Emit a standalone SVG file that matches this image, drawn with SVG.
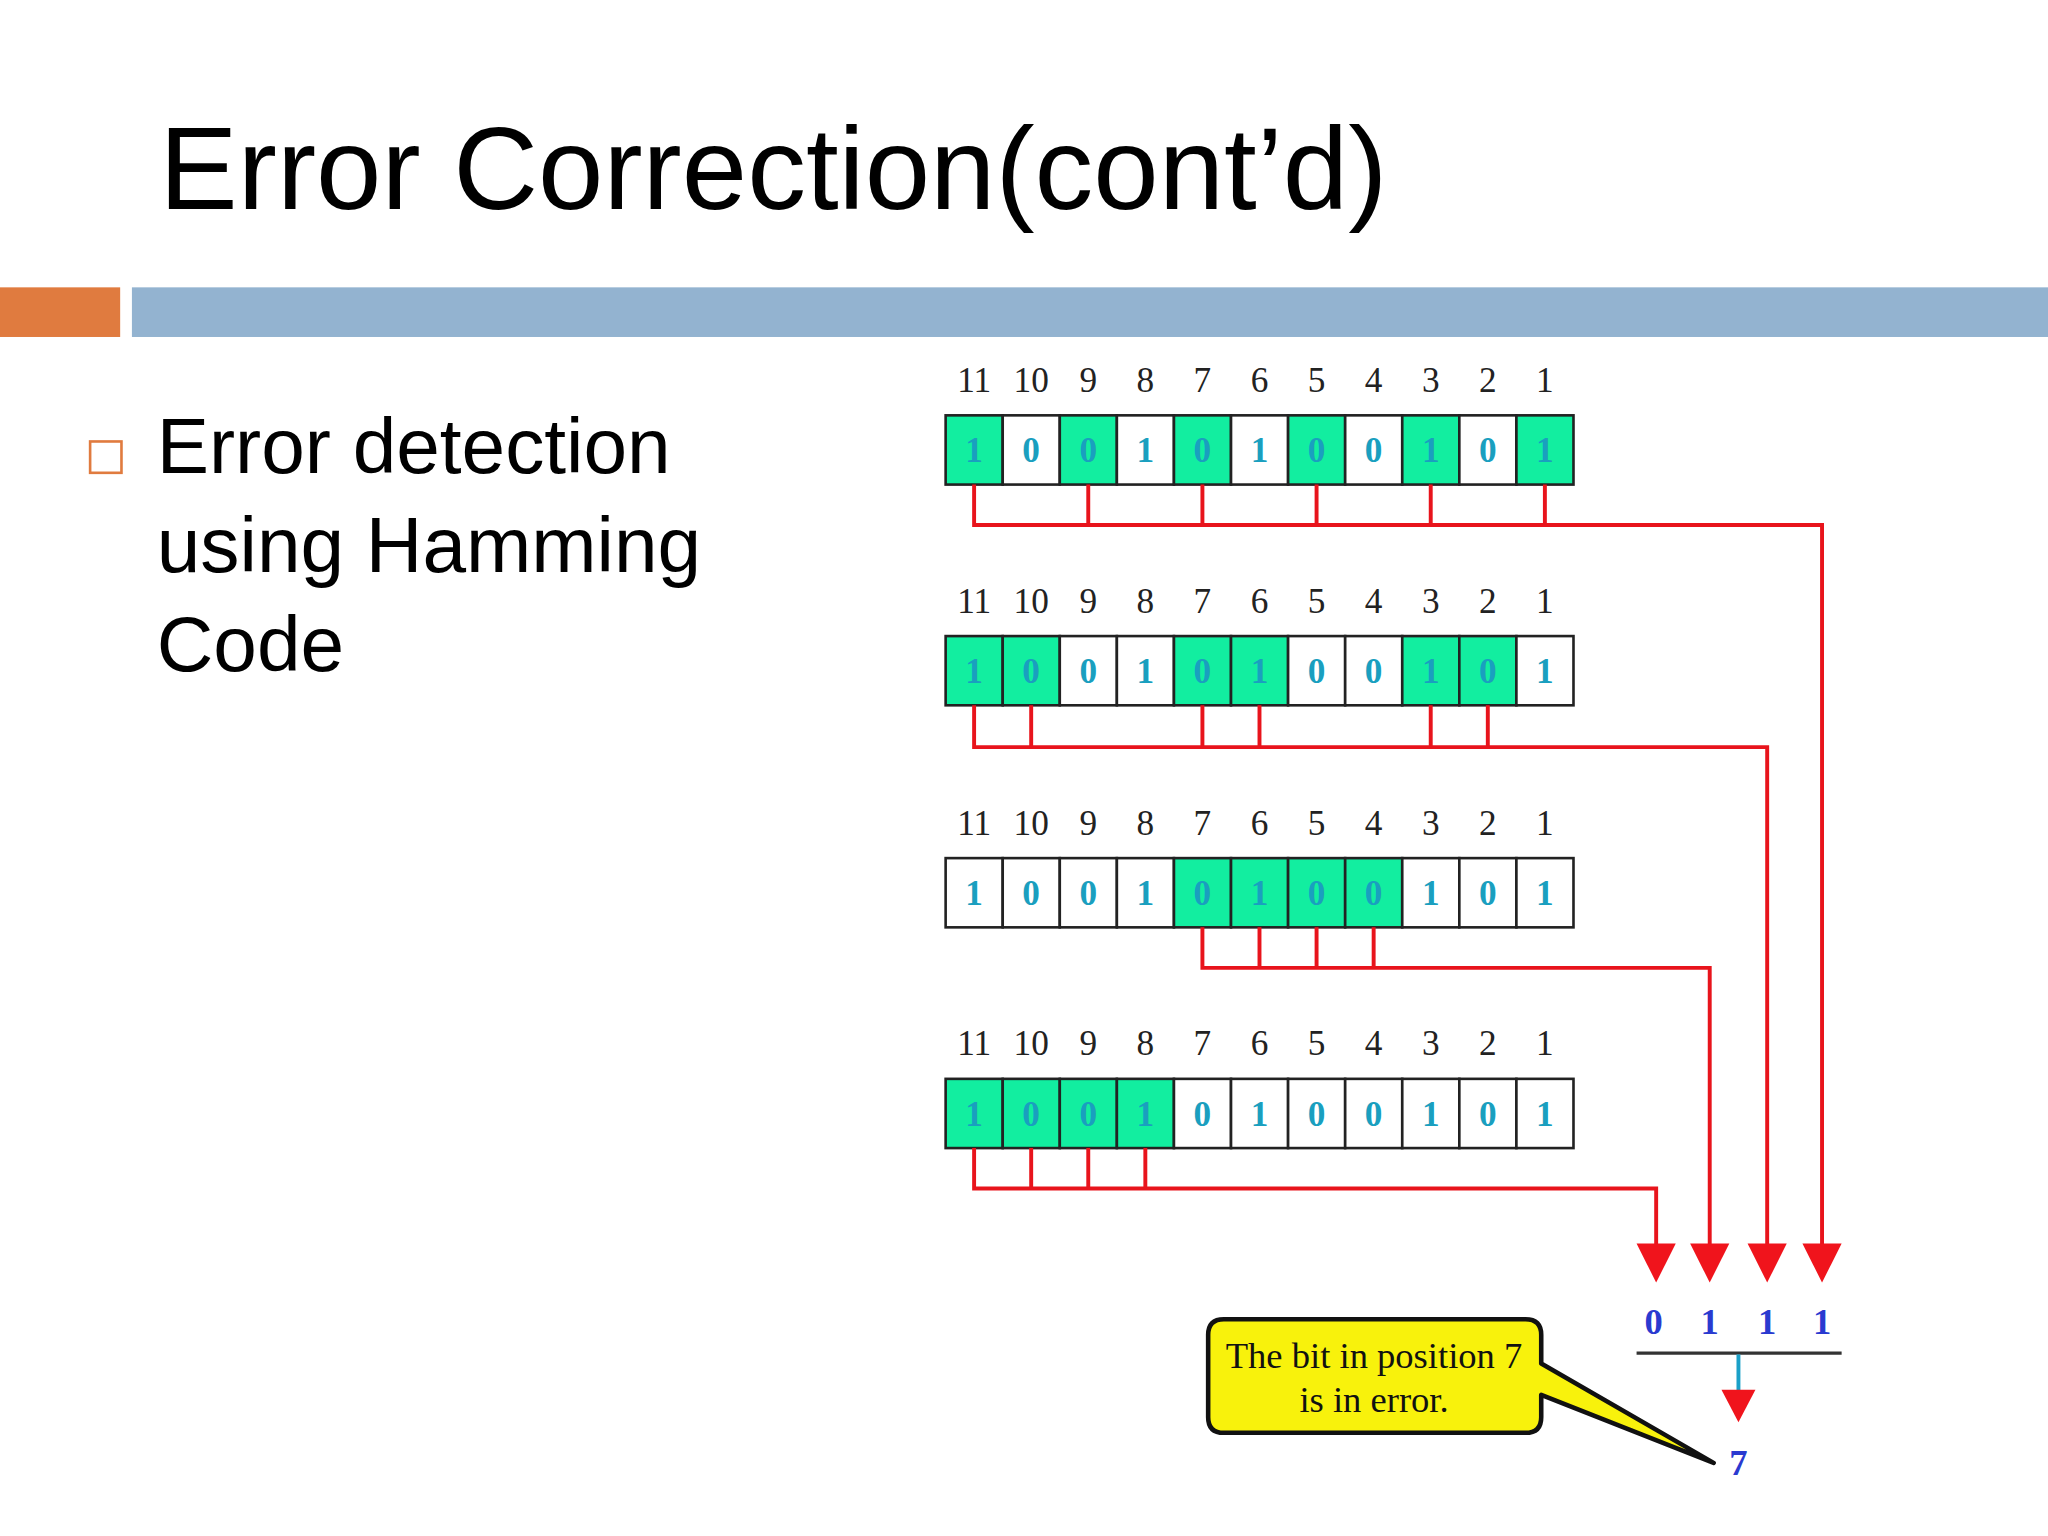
<svg xmlns="http://www.w3.org/2000/svg" width="2048" height="1536" viewBox="0 0 2048 1536">
<style>
.lab{font-family:"Liberation Serif",serif;font-size:27px;fill:#222;text-anchor:middle}
.bit{font-family:"Liberation Serif",serif;font-size:27px;font-weight:bold;fill:#1a9fbf;text-anchor:middle}
.g{fill:#12eea0;stroke:#222;stroke-width:2}
.w{fill:#fff;stroke:#222;stroke-width:2}
.red{fill:none;stroke:#e8141c;stroke-width:3}
.res{font-family:"Liberation Serif",serif;font-size:28px;font-weight:bold;fill:#2a3ad0;text-anchor:middle}
</style>
<defs>
<path id="ah" d="M-15,0 L15,0 L0,30 Z" fill="#f0141c"/>
</defs>
<rect width="2048" height="1536" fill="#fff"/>
<g transform="scale(1.306122)">
<g id="title"><text x="122" y="160" font-family="Liberation Sans,Arial,sans-serif" font-size="90" fill="#000">Error Correction(cont’d)</text></g>
<rect x="0" y="220" width="92" height="38" fill="#e07b3f"/>
<rect x="101" y="220" width="1467" height="38" fill="#93b3d0"/>
<g id="bullet"><rect x="69" y="338" width="24" height="24" fill="none" stroke="#e07b3f" stroke-width="2"/>
<text font-family="Liberation Sans,Arial,sans-serif" font-size="60" fill="#000"><tspan x="120" y="362">Error detection</tspan><tspan x="120" y="438">using Hamming</tspan><tspan x="120" y="514">Code</tspan></text></g>

<g id="row1" transform="translate(0,318)">
<text class="lab" y="-18"><tspan x="745.8">11</tspan><tspan x="789.5">10</tspan><tspan x="833.2">9</tspan><tspan x="876.9">8</tspan><tspan x="920.6">7</tspan><tspan x="964.3">6</tspan><tspan x="1008">5</tspan><tspan x="1051.7">4</tspan><tspan x="1095.4">3</tspan><tspan x="1139.1">2</tspan><tspan x="1182.8">1</tspan></text>
<rect class="g" x="724" width="43.7" height="53"/><rect class="w" x="767.7" width="43.7" height="53"/><rect class="g" x="811.4" width="43.7" height="53"/><rect class="w" x="855.1" width="43.7" height="53"/><rect class="g" x="898.8" width="43.7" height="53"/><rect class="w" x="942.5" width="43.7" height="53"/><rect class="g" x="986.2" width="43.7" height="53"/><rect class="w" x="1029.9" width="43.7" height="53"/><rect class="g" x="1073.6" width="43.7" height="53"/><rect class="w" x="1117.3" width="43.7" height="53"/><rect class="g" x="1161" width="43.7" height="53"/>
<text class="bit" y="36"><tspan x="745.8">1</tspan><tspan x="789.5">0</tspan><tspan x="833.2">0</tspan><tspan x="876.9">1</tspan><tspan x="920.6">0</tspan><tspan x="964.3">1</tspan><tspan x="1008">0</tspan><tspan x="1051.7">0</tspan><tspan x="1095.4">1</tspan><tspan x="1139.1">0</tspan><tspan x="1182.8">1</tspan></text>
</g>
<g id="row2" transform="translate(0,487)">
<text class="lab" y="-18"><tspan x="745.8">11</tspan><tspan x="789.5">10</tspan><tspan x="833.2">9</tspan><tspan x="876.9">8</tspan><tspan x="920.6">7</tspan><tspan x="964.3">6</tspan><tspan x="1008">5</tspan><tspan x="1051.7">4</tspan><tspan x="1095.4">3</tspan><tspan x="1139.1">2</tspan><tspan x="1182.8">1</tspan></text>
<rect class="g" x="724" width="43.7" height="53"/><rect class="g" x="767.7" width="43.7" height="53"/><rect class="w" x="811.4" width="43.7" height="53"/><rect class="w" x="855.1" width="43.7" height="53"/><rect class="g" x="898.8" width="43.7" height="53"/><rect class="g" x="942.5" width="43.7" height="53"/><rect class="w" x="986.2" width="43.7" height="53"/><rect class="w" x="1029.9" width="43.7" height="53"/><rect class="g" x="1073.6" width="43.7" height="53"/><rect class="g" x="1117.3" width="43.7" height="53"/><rect class="w" x="1161" width="43.7" height="53"/>
<text class="bit" y="36"><tspan x="745.8">1</tspan><tspan x="789.5">0</tspan><tspan x="833.2">0</tspan><tspan x="876.9">1</tspan><tspan x="920.6">0</tspan><tspan x="964.3">1</tspan><tspan x="1008">0</tspan><tspan x="1051.7">0</tspan><tspan x="1095.4">1</tspan><tspan x="1139.1">0</tspan><tspan x="1182.8">1</tspan></text>
</g>
<g id="row3" transform="translate(0,657)">
<text class="lab" y="-18"><tspan x="745.8">11</tspan><tspan x="789.5">10</tspan><tspan x="833.2">9</tspan><tspan x="876.9">8</tspan><tspan x="920.6">7</tspan><tspan x="964.3">6</tspan><tspan x="1008">5</tspan><tspan x="1051.7">4</tspan><tspan x="1095.4">3</tspan><tspan x="1139.1">2</tspan><tspan x="1182.8">1</tspan></text>
<rect class="w" x="724" width="43.7" height="53"/><rect class="w" x="767.7" width="43.7" height="53"/><rect class="w" x="811.4" width="43.7" height="53"/><rect class="w" x="855.1" width="43.7" height="53"/><rect class="g" x="898.8" width="43.7" height="53"/><rect class="g" x="942.5" width="43.7" height="53"/><rect class="g" x="986.2" width="43.7" height="53"/><rect class="g" x="1029.9" width="43.7" height="53"/><rect class="w" x="1073.6" width="43.7" height="53"/><rect class="w" x="1117.3" width="43.7" height="53"/><rect class="w" x="1161" width="43.7" height="53"/>
<text class="bit" y="36"><tspan x="745.8">1</tspan><tspan x="789.5">0</tspan><tspan x="833.2">0</tspan><tspan x="876.9">1</tspan><tspan x="920.6">0</tspan><tspan x="964.3">1</tspan><tspan x="1008">0</tspan><tspan x="1051.7">0</tspan><tspan x="1095.4">1</tspan><tspan x="1139.1">0</tspan><tspan x="1182.8">1</tspan></text>
</g>
<g id="row4" transform="translate(0,826)">
<text class="lab" y="-18"><tspan x="745.8">11</tspan><tspan x="789.5">10</tspan><tspan x="833.2">9</tspan><tspan x="876.9">8</tspan><tspan x="920.6">7</tspan><tspan x="964.3">6</tspan><tspan x="1008">5</tspan><tspan x="1051.7">4</tspan><tspan x="1095.4">3</tspan><tspan x="1139.1">2</tspan><tspan x="1182.8">1</tspan></text>
<rect class="g" x="724" width="43.7" height="53"/><rect class="g" x="767.7" width="43.7" height="53"/><rect class="g" x="811.4" width="43.7" height="53"/><rect class="g" x="855.1" width="43.7" height="53"/><rect class="w" x="898.8" width="43.7" height="53"/><rect class="w" x="942.5" width="43.7" height="53"/><rect class="w" x="986.2" width="43.7" height="53"/><rect class="w" x="1029.9" width="43.7" height="53"/><rect class="w" x="1073.6" width="43.7" height="53"/><rect class="w" x="1117.3" width="43.7" height="53"/><rect class="w" x="1161" width="43.7" height="53"/>
<text class="bit" y="36"><tspan x="745.8">1</tspan><tspan x="789.5">0</tspan><tspan x="833.2">0</tspan><tspan x="876.9">1</tspan><tspan x="920.6">0</tspan><tspan x="964.3">1</tspan><tspan x="1008">0</tspan><tspan x="1051.7">0</tspan><tspan x="1095.4">1</tspan><tspan x="1139.1">0</tspan><tspan x="1182.8">1</tspan></text>
</g>

<g id="connectors">
<path class="red" d="M745.8,371V402H1395V955 M833.2,371V402 M920.6,371V402 M1008,371V402 M1095.4,371V402 M1182.8,371V402"/>
<path class="red" d="M745.8,540V572H1353V955 M789.5,540V572 M920.6,540V572 M964.3,540V572 M1095.4,540V572 M1139.1,540V572"/>
<path class="red" d="M920.6,710V741H1309V955 M964.3,710V741 M1008,710V741 M1051.7,710V741"/>
<path class="red" d="M745.8,879V910H1268V955 M789.5,879V910 M833.2,879V910 M876.9,879V910"/>
<use href="#ah" x="1268" y="952"/><use href="#ah" x="1309" y="952"/><use href="#ah" x="1353" y="952"/><use href="#ah" x="1395" y="952"/>
<line x1="1253" y1="1036" x2="1410" y2="1036" stroke="#333" stroke-width="2.5"/>
<line x1="1331" y1="1037" x2="1331" y2="1066" stroke="#1aa0c8" stroke-width="3"/>
<path d="M1318,1064 L1344,1064 L1331,1089 Z" fill="#f0141c"/>
</g>
<g id="result">
<text class="res" y="1021"><tspan x="1266">0</tspan><tspan x="1309">1</tspan><tspan x="1353">1</tspan><tspan x="1395">1</tspan></text>
<text class="res" x="1331" y="1129">7</text>
</g>
<g id="callout">
<path d="M937,1010 H1168 Q1180,1010 1180,1022 V1044 L1312,1120 L1180,1068 V1085 Q1180,1097 1168,1097 H937 Q925,1097 925,1085 V1022 Q925,1010 937,1010 Z" fill="#f8f20c" stroke="#111" stroke-width="3.5" stroke-linejoin="round"/>
<text font-family="Liberation Serif,serif" font-size="28" fill="#111" text-anchor="middle"><tspan x="1052" y="1047">The bit in position 7</tspan><tspan x="1052" y="1081">is in error.</tspan></text>
</g>
</g>
</svg>
